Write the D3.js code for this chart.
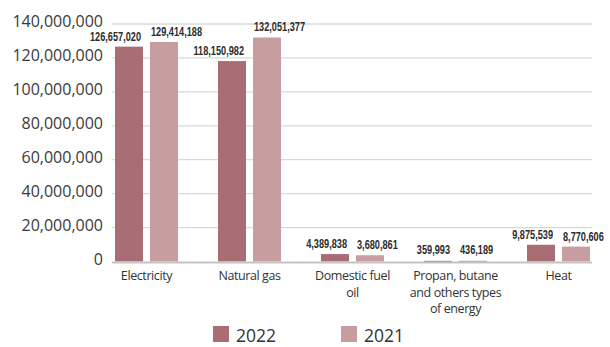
<!DOCTYPE html>
<html><head><meta charset="utf-8">
<script src="https://cdn.jsdelivr.net/npm/d3@7"></script>
<style>body{margin:0;background:#fff}svg{display:block}</style>
</head><body><svg id="c" width="610" height="347"></svg>
<script>
const categories = ["Electricity", "Natural gas", "Domestic fuel oil", "Propan, butane and others types of energy", "Heat"];
const categoryLines = [["Electricity"], ["Natural gas"], ["Domestic fuel", "oil"], ["Propan, butane", "and others types", "of energy"], ["Heat"]];
const seriesNames = ["2022", "2021"];
const values2022 = [126657020, 118150982, 4389838, 359993, 9875539];
const values2021 = [129414188, 132051377, 3680861, 436189, 8770606];
const yTicks = [0, 20000000, 40000000, 60000000, 80000000, 100000000, 120000000, 140000000];
const colors = {"2022": "#a96e74", "2021": "#c89d9f"};

const svg = d3.select("#c");
const plotL = 112, plotR = 592;
const y = d3.scaleLinear().domain([0, 140000000]).range([261.5, 24]);
const x0 = d3.scaleBand().domain(categories).range([95, 610]).padding(0);
const x1 = d3.scaleBand().domain(seriesNames).range([20, 83]).paddingInner(0.2);
const fmt = d3.format(",");

// gridlines
svg.append("g").selectAll("line").data(yTicks.filter(d => d > 0)).join("line")
  .attr("x1", plotL).attr("x2", plotR)
  .attr("y1", d => y(d)).attr("y2", d => y(d))
  .attr("stroke", "#d9d9d9").attr("stroke-width", 1.3);

// y axis labels
const yAxis = d3.axisLeft(y).tickValues(yTicks).tickFormat(fmt).tickSize(0).tickPadding(0);
const ga = svg.append("g").attr("transform", "translate(103,0)").call(yAxis);
ga.select(".domain").remove();
ga.selectAll("text").attr("font-family", "'Open Sans', sans-serif").attr("font-size", 16)
  .attr("fill", "#3a3a3a").attr("dy", "2.7").attr("x", 0);

// bars
const data = [];
categories.forEach((c, i) => {
  data.push({cat: c, s: "2022", v: values2022[i]});
  data.push({cat: c, s: "2021", v: values2021[i]});
});
svg.append("g").selectAll("rect").data(data).join("rect")
  .attr("x", d => x0(d.cat) + x1(d.s))
  .attr("width", x1.bandwidth())
  .attr("y", d => y(d.v))
  .attr("height", d => Math.max(1.5, y(0) - y(d.v)))
  .attr("fill", d => colors[d.s]);

// baseline
svg.append("line").attr("x1", plotL).attr("x2", plotR).attr("y1", y(0) + 1).attr("y2", y(0) + 1)
  .attr("stroke", "#c4c4c4").attr("stroke-width", 2);

// value labels
svg.append("g").selectAll("text").data(data).join("text")
  .attr("transform", d => {
    const bx = x0(d.cat) + x1(d.s);
    const tx = d.s === "2022" ? bx + x1.bandwidth() - 2 : bx + 1;
    const ty = Math.min(y(d.v), y(0) - 2) - 6;
    return `translate(${tx},${ty}) scale(0.68,1)`;
  })
  .attr("text-anchor", d => d.s === "2022" ? "end" : "start")
  .attr("font-family", "'Liberation Sans', sans-serif")
  .attr("font-weight", "bold").attr("font-size", 13.5).attr("fill", "#2b2b2b")
  .text(d => fmt(d.v));

// category labels
const cg = svg.append("g").selectAll("text").data(categories).join("text")
  .attr("x", d => x0(d) + x0.bandwidth() / 2)
  .attr("y", 280)
  .attr("text-anchor", "middle")
  .attr("font-family", "'Open Sans', sans-serif").attr("font-size", 12.5)
  .attr("letter-spacing", -0.4)
  .attr("fill", "#333");
cg.each(function(d, i) {
  d3.select(this).selectAll("tspan").data(categoryLines[i]).join("tspan")
    .attr("x", x0(d) + x0.bandwidth() / 2)
    .attr("dy", (t, j) => j === 0 ? 0 : 16.5)
    .text(t => t);
});

// legend
const legendX = [213, 341];
const lg = svg.append("g").selectAll("g").data(seriesNames).join("g")
  .attr("transform", (d, i) => `translate(${legendX[i]},326)`);
lg.append("rect").attr("width", 16).attr("height", 16).attr("fill", d => colors[d]);
lg.append("text").attr("x", 23).attr("y", 15.5)
  .attr("font-family", "'Open Sans', sans-serif").attr("font-size", 17.5).attr("fill", "#333")
  .text(d => d);
</script></body></html>
